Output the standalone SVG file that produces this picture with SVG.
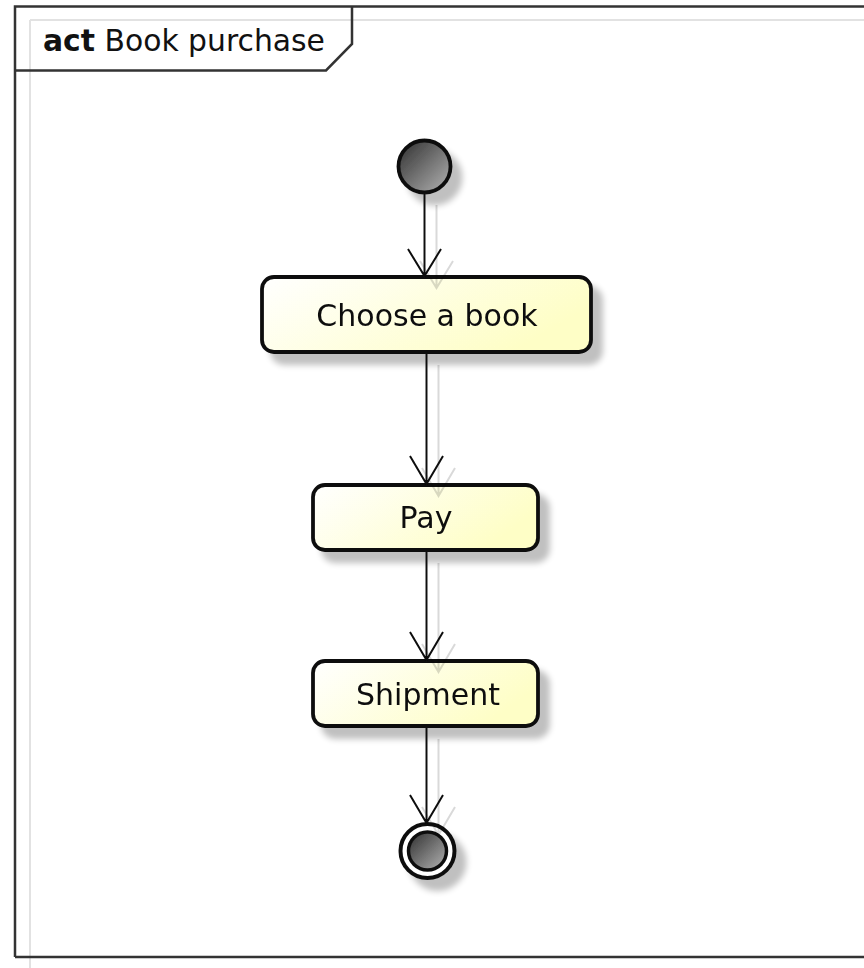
<svg xmlns="http://www.w3.org/2000/svg" width="864" height="968" viewBox="0 0 864 968">
<style>
  .frame { fill: none; stroke: #333; stroke-width: 2.5; }
  .guide { stroke: #e2e2e2; stroke-width: 2; fill: none; }
  .box { fill: url(#boxGrad); stroke: #111; stroke-width: 3.8; }
  .lbl { font-family: "DejaVu Sans", "Liberation Sans", sans-serif; font-size: 30px; fill: #111; text-anchor: middle; }
  .title { font-family: "DejaVu Sans", "Liberation Sans", sans-serif; font-size: 29.8px; fill: #111; }
  .edge { stroke: #111; stroke-width: 2; fill: none; }
</style>
<defs>
  <linearGradient id="boxGrad" x1="0" y1="0" x2="1" y2="0.4">
    <stop offset="0" stop-color="#ffffff"/>
    <stop offset="1" stop-color="#fefec6"/>
  </linearGradient>
  <linearGradient id="dotGrad" x1="0" y1="0" x2="1" y2="1">
    <stop offset="0" stop-color="#2e2e2e"/>
    <stop offset="1" stop-color="#b4b4b4"/>
  </linearGradient>
  <filter id="shadow" x="-30%" y="-30%" width="170%" height="170%">
    <feGaussianBlur in="SourceAlpha" stdDeviation="3" result="b"/>
    <feOffset in="b" dx="10" dy="11" result="o"/>
    <feComponentTransfer in="o" result="s"><feFuncA type="linear" slope="0.25"/></feComponentTransfer>
    <feMerge><feMergeNode in="s"/><feMergeNode in="SourceGraphic"/></feMerge>
  </filter>
  <filter id="lshadow" x="-200%" y="-20%" width="500%" height="140%">
    <feOffset in="SourceAlpha" dx="12" dy="12" result="o"/>
    <feComponentTransfer in="o" result="s"><feFuncA type="linear" slope="0.15"/></feComponentTransfer>
    <feMerge><feMergeNode in="s"/><feMergeNode in="SourceGraphic"/></feMerge>
  </filter>
</defs>
<rect width="864" height="968" fill="#ffffff"/>
<g id="guides">
  <line class="guide" x1="30" y1="20" x2="30" y2="968"/>
  <line class="guide" x1="30" y1="20" x2="864" y2="20"/>
</g>
<g id="frame">
  <path class="frame" d="M15,957 L15,6.5 L870,6.5 M15,957 L870,957"/>
  <path class="frame" d="M15,70.5 L326,70.5 L352,44 L352,6.5"/>
  <text class="title" x="43" y="51"><tspan font-weight="bold">act</tspan> Book purchase</text>
</g>
<g id="start" filter="url(#shadow)">
  <circle cx="424.5" cy="166.5" r="26" fill="url(#dotGrad)" stroke="#111" stroke-width="3.8"/>
</g>
<g id="choose" filter="url(#shadow)">
  <rect class="box" x="262" y="277" width="329" height="75" rx="12"/>
  <text class="lbl" x="427" y="326">Choose a book</text>
</g>
<g id="pay" filter="url(#shadow)">
  <rect class="box" x="313" y="485" width="225" height="65" rx="12"/>
  <text class="lbl" x="426" y="528">Pay</text>
</g>
<g id="shipment" filter="url(#shadow)">
  <rect class="box" x="313" y="661" width="225" height="65" rx="12"/>
  <text class="lbl" x="428" y="705">Shipment</text>
</g>
<g id="end" filter="url(#shadow)">
  <circle cx="427.5" cy="851" r="27" fill="#ffffff" stroke="#111" stroke-width="4"/>
  <circle cx="427.5" cy="851" r="19" fill="url(#dotGrad)" stroke="#111" stroke-width="3.5"/>
</g>
<g id="connectors" filter="url(#lshadow)">
  <path class="edge" d="M424.5,193 L424.5,276 M408,249 L424.5,276 L441,249"/>
  <path class="edge" d="M426.5,353 L426.5,484 M410,456 L426.5,484 L443,456"/>
  <path class="edge" d="M426.5,551 L426.5,660 M410,632 L426.5,660 L443,632"/>
  <path class="edge" d="M426.5,727 L426.5,823 M410,795 L426.5,823 L443,795"/>
</g>
</svg>
